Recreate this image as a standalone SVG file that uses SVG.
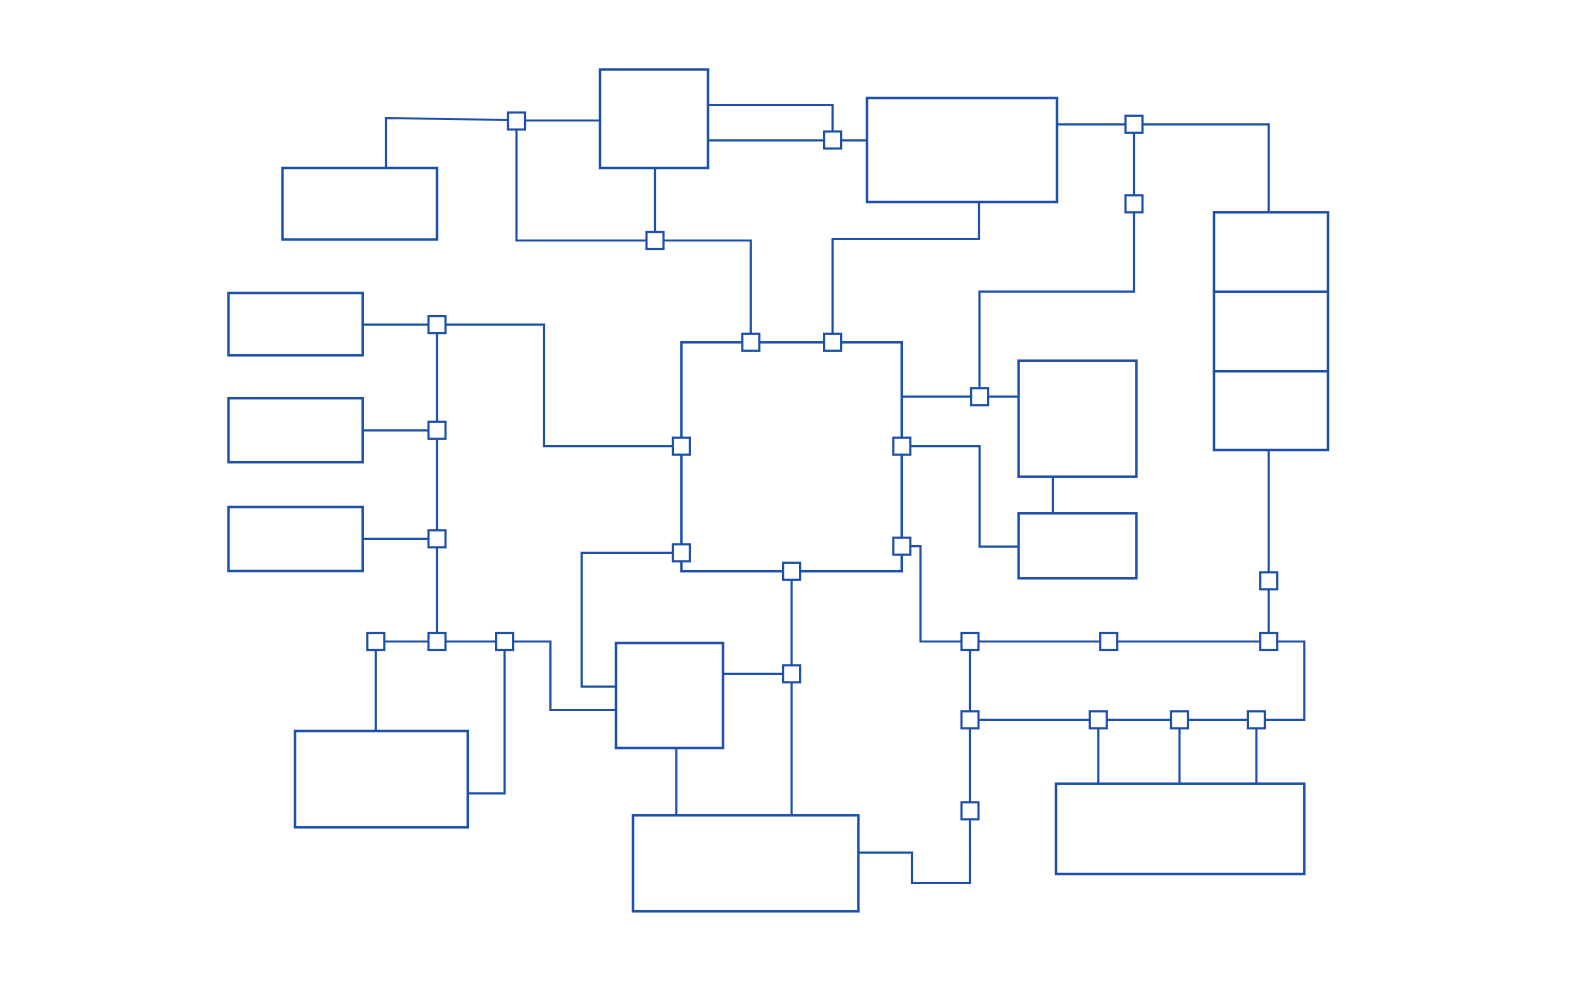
<svg xmlns="http://www.w3.org/2000/svg" width="1586" height="992" viewBox="0 0 1586 992">
<style>
.n{fill:#fff;stroke:#1d50a8;stroke-width:2.5}
.c{fill:none;stroke:#1d50a8;stroke-width:2.2;stroke-linejoin:miter}
.p{fill:#fff;stroke:#1d50a8;stroke-width:2.2}
</style>
<rect width="1586" height="992" fill="#fff"/>
<g id="connectors" class="c">
<polyline points="386,168 386,118 508,120"/>
<line x1="525" y1="120.5" x2="600" y2="120.5"/>
<polyline points="516.5,121 516.5,240.5 750.8,240.5 750.8,342.3"/>
<line x1="655" y1="168" x2="655" y2="240.5"/>
<polyline points="708,105 832.6,105 832.6,140"/>
<line x1="708" y1="140.3" x2="867" y2="140.3"/>
<polyline points="979,202 979,239 832.6,239 832.6,342.3"/>
<line x1="1057" y1="124.3" x2="1134" y2="124.3"/>
<polyline points="1134,124.3 1268.7,124.3 1268.7,212.3"/>
<polyline points="1134,124.3 1134,291.7 979.5,291.7 979.5,396.7"/>
<line x1="901.8" y1="396.7" x2="1018.6" y2="396.7"/>
<line x1="1052.9" y1="476.7" x2="1052.9" y2="513.3"/>
<polyline points="901.8,446.2 979.6,446.2 979.6,546.7 1018.6,546.7"/>
<line x1="362.7" y1="324.6" x2="437" y2="324.6"/>
<line x1="362.7" y1="430.3" x2="437" y2="430.3"/>
<line x1="362.7" y1="538.8" x2="437" y2="538.8"/>
<line x1="437" y1="324.6" x2="437" y2="641.5"/>
<polyline points="437,324.6 544,324.6 544,446.2 681.4,446.2"/>
<polyline points="681.4,552.8 581.7,552.8 581.7,686.7 616,686.7"/>
<polyline points="375.8,641.5 550.4,641.5 550.4,710 616,710"/>
<line x1="375.8" y1="641.5" x2="375.8" y2="731"/>
<polyline points="504.6,641.5 504.6,793.3 467.8,793.3"/>
<line x1="791.6" y1="571.3" x2="791.6" y2="815.3"/>
<line x1="723" y1="673.8" x2="791.6" y2="673.8"/>
<line x1="676.3" y1="748" x2="676.3" y2="815.3"/>
<polyline points="901.8,546.2 920.5,546.2 920.5,641.5 1304.3,641.5 1304.3,719.8 970,719.8"/>
<line x1="1268.7" y1="450" x2="1268.7" y2="641.5"/>
<polyline points="970,641.5 970,883 912,883 912,852.7 858.4,852.7"/>
<line x1="1098.3" y1="719.8" x2="1098.3" y2="783.7"/>
<line x1="1179.5" y1="719.8" x2="1179.5" y2="783.7"/>
<line x1="1256.4" y1="719.8" x2="1256.4" y2="783.7"/>
</g>
<g id="nodeA"><rect class="n" x="600" y="69.5" width="108" height="98.5"/></g>
<g id="nodeB"><rect class="n" x="282.5" y="168" width="154.5" height="71.5"/></g>
<g id="nodeC"><rect class="n" x="867" y="98" width="190" height="104"/></g>
<g id="nodeD"><rect class="n" x="1214" y="212.3" width="114" height="237.7"/><line class="n" x1="1214" y1="291.7" x2="1328" y2="291.7"/><line class="n" x1="1214" y1="371.3" x2="1328" y2="371.3"/></g>
<g id="nodeE"><rect class="n" x="1018.6" y="360.7" width="117.8" height="116"/></g>
<g id="nodeG"><rect class="n" x="1018.6" y="513.3" width="117.8" height="65"/></g>
<g id="nodeF1"><rect class="n" x="228.5" y="293" width="134.2" height="62.3"/></g>
<g id="nodeF2"><rect class="n" x="228.5" y="398.2" width="134.2" height="64"/></g>
<g id="nodeF3"><rect class="n" x="228.5" y="507" width="134.2" height="64"/></g>
<g id="nodeCenter"><rect class="n" x="681.4" y="342.3" width="220.4" height="228.9"/></g>
<g id="nodeH"><rect class="n" x="616" y="643" width="107" height="105"/></g>
<g id="nodeI"><rect class="n" x="633" y="815.3" width="225.4" height="96"/></g>
<g id="nodeJ"><rect class="n" x="295" y="731" width="172.8" height="96.3"/></g>
<g id="nodeK"><rect class="n" x="1056" y="783.7" width="248.3" height="90.3"/></g>
<g id="ports">
<rect class="p" x="508" y="112.5" width="17" height="17"/>
<rect class="p" x="646.5" y="232" width="17" height="17"/>
<rect class="p" x="824.1" y="131.5" width="17" height="17"/>
<rect class="p" x="1125.5" y="115.8" width="17" height="17"/>
<rect class="p" x="1125.5" y="195.3" width="17" height="17"/>
<rect class="p" x="742.3" y="333.8" width="17" height="17"/>
<rect class="p" x="824.1" y="333.8" width="17" height="17"/>
<rect class="p" x="971.1" y="388.2" width="17" height="17"/>
<rect class="p" x="672.9" y="437.7" width="17" height="17"/>
<rect class="p" x="672.9" y="544.3" width="17" height="17"/>
<rect class="p" x="893.3" y="437.7" width="17" height="17"/>
<rect class="p" x="893.3" y="537.7" width="17" height="17"/>
<rect class="p" x="783.1" y="562.8" width="17" height="17"/>
<rect class="p" x="428.5" y="316.1" width="17" height="17"/>
<rect class="p" x="428.5" y="421.8" width="17" height="17"/>
<rect class="p" x="428.5" y="530.3" width="17" height="17"/>
<rect class="p" x="367.3" y="633" width="17" height="17"/>
<rect class="p" x="428.5" y="633" width="17" height="17"/>
<rect class="p" x="496.1" y="633" width="17" height="17"/>
<rect class="p" x="783.1" y="665.3" width="17" height="17"/>
<rect class="p" x="961.5" y="633" width="17" height="17"/>
<rect class="p" x="1100.2" y="633" width="17" height="17"/>
<rect class="p" x="1260.2" y="633" width="17" height="17"/>
<rect class="p" x="1260.2" y="572.3" width="17" height="17"/>
<rect class="p" x="961.5" y="711.3" width="17" height="17"/>
<rect class="p" x="1089.8" y="711.3" width="17" height="17"/>
<rect class="p" x="1171" y="711.3" width="17" height="17"/>
<rect class="p" x="1247.9" y="711.3" width="17" height="17"/>
<rect class="p" x="961.5" y="802.3" width="17" height="17"/>
</g>
</svg>
